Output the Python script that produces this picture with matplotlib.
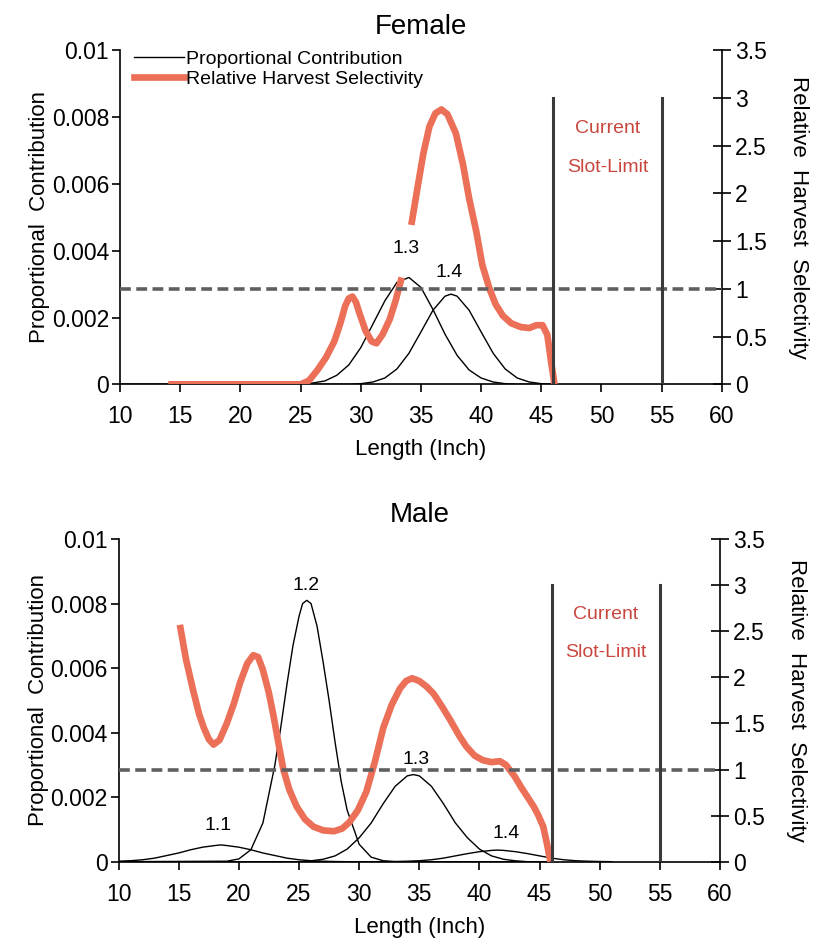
import matplotlib
matplotlib.use("Agg")
import matplotlib.pyplot as plt
import numpy as np

plt.rcParams['font.family'] = ['Liberation Sans', 'DejaVu Sans']

# ---- data ----
# Female proportional contribution curves (left axis)
f13_x = [10, 25, 26, 27, 28, 29, 30, 31, 32, 33, 34, 35, 36, 37, 38, 39, 40, 41, 42, 43, 46]
f13_y = [0, 0, 0.00004, 0.0001, 0.00027, 0.00058, 0.0011, 0.0018, 0.0025, 0.00305, 0.0032,
         0.0029, 0.00224, 0.0015, 0.00087, 0.00043, 0.00019, 0.00007, 0.00002, 0, 0]
f14_x = [10, 29, 30, 31, 32, 33, 34, 35, 36, 37, 37.5, 38, 39, 40, 41, 42, 43, 44, 45, 46]
f14_y = [0, 0, 0.00002, 0.00007, 0.00019, 0.00046, 0.00093, 0.00157, 0.00222, 0.00264, 0.0027,
         0.00264, 0.00222, 0.00157, 0.00093, 0.00046, 0.00019, 0.00007, 0.00002, 0]

# Female relative harvest selectivity (right axis), NaN = break in the line
f_sel_x = [14, 25, 25.7, 26.4, 27.1, 27.8, 28.3, 28.7, 29.0, 29.3, 29.6, 29.9, 30.4, 30.9, 31.3,
           31.8, 32.4, 32.9, 33.4, np.nan, 34.2, 34.7, 35.2, 35.7, 36.2, 36.7, 37.2, 37.9, 38.5,
           39.0, 39.6, 40.1, 40.7, 41.2, 41.8, 42.5, 43.3, 44.0, 44.6, 45.1, 45.5, 45.8, 46.1]
f_sel_y = [0, 0, 0.04, 0.15, 0.28, 0.45, 0.64, 0.82, 0.9, 0.92, 0.86, 0.74, 0.56, 0.45, 0.43,
           0.52, 0.68, 0.88, 1.12, np.nan, 1.67, 2.05, 2.42, 2.7, 2.84, 2.88, 2.83, 2.63, 2.3,
           1.95, 1.6, 1.25, 1.0, 0.84, 0.72, 0.64, 0.6, 0.59, 0.62, 0.62, 0.52, 0.25, 0]

# Male proportional contribution curves (left axis)
m11_x = [10, 11, 12, 13, 14, 15, 16, 17, 18, 18.5, 19, 20, 21, 22, 23, 24, 25, 26, 27, 28, 29]
m11_y = [0.000015, 0.00003, 0.00006, 0.00011, 0.00019, 0.00027, 0.00037, 0.00045, 0.0005, 0.00052,
         0.0005, 0.00045, 0.00037, 0.00027, 0.00019, 0.00011, 0.00006, 0.00003, 0.000015, 0.000005, 0]
m12_x = [10, 19, 20, 21, 22, 23, 23.5, 24, 24.5, 25, 25.3, 25.65, 26, 26.5, 27, 27.5, 28, 28.5, 29,
         30, 31, 32, 33, 46]
m12_y = [0, 0.000015, 0.000085, 0.00037, 0.0012, 0.003, 0.0042, 0.0055, 0.0067, 0.0076, 0.0080,
         0.0081, 0.008, 0.0073, 0.0062, 0.005, 0.0037, 0.0025, 0.0016, 0.00054, 0.00014, 0.00003,
         0, 0]
m13_x = [10, 25, 26, 27, 28, 29, 30, 31, 32, 33, 34, 34.5, 35, 36, 37, 38, 39, 40, 41, 42, 43, 44]
m13_y = [0, 0, 0.000027, 0.000075, 0.00018, 0.00039, 0.00074, 0.0012, 0.0018, 0.00234, 0.00266,
         0.0027, 0.00266, 0.00234, 0.0018, 0.0012, 0.00074, 0.00039, 0.00018, 0.000075, 0.000027, 0]
m14_x = [10, 31, 32, 33, 34, 35, 36, 37, 38, 39, 40, 41, 41.5, 42, 43, 44, 45, 46, 47, 48, 49, 50, 51]
m14_y = [0, 0, 0.000002, 0.000006, 0.000015, 0.00003, 0.00006, 0.00011, 0.00018, 0.00025, 0.00031,
         0.00035, 0.00036, 0.00035, 0.00031, 0.00025, 0.00018, 0.00011, 0.00006, 0.00003, 0.000015,
         0.000006, 0]

# Male relative harvest selectivity (right axis)
m_sel_x = [15.1, 15.6, 16.2, 16.7, 17.1, 17.5, 17.9, 18.4, 19.0, 19.6, 20.1, 20.7, 21.2, 21.6,
           22.0, 22.5, 22.9, 23.3, 23.7, 24.2, 24.8, 25.5, 26.2, 27.0, 27.9, 28.6, 29.2, 29.9,
           30.6, 31.3, 32.0, 32.7, 33.4, 33.9, 34.4, 35.0, 35.6, 36.2, 36.9, 37.6, 38.3, 38.9,
           39.6, 40.3, 41.0, 41.7, 42.2, 42.9, 43.5, 44.0, 44.5, 44.9, 45.3, 45.6, 45.9]
m_sel_y = [2.57, 2.2, 1.86, 1.6, 1.45, 1.33, 1.27, 1.32, 1.5, 1.72, 1.94, 2.15, 2.24, 2.22,
           2.08, 1.83, 1.57, 1.28, 1.0, 0.78, 0.6, 0.46, 0.38, 0.34, 0.33, 0.36, 0.43, 0.56,
           0.76, 1.08, 1.45, 1.7, 1.88, 1.96, 1.99, 1.96, 1.9, 1.82, 1.68, 1.53, 1.37, 1.25,
           1.15, 1.1, 1.08, 1.09, 1.05, 0.93, 0.8, 0.7, 0.6, 0.5, 0.38, 0.2, 0]

# peak labels: (text, x, y)
f_labels = [("1.3", 33.8, 0.0038), ("1.4", 37.3, 0.0031)]
m_labels = [("1.1", 18.3, 0.00085), ("1.2", 25.6, 0.0083), ("1.3", 34.7, 0.0029), ("1.4", 42.2, 0.0006)]

slot_limits = [46, 55]
slot_top = 3.0
reference_level = 1.0

x_ticks = list(range(10, 61, 5))
left_ticks = [0, 0.002, 0.004, 0.006, 0.008, 0.01]
left_ticklabels = ["0", "0.002", "0.004", "0.006", "0.008", "0.01"]
right_ticks = [0, 0.5, 1, 1.5, 2, 2.5, 3, 3.5]
right_ticklabels = ["0", "0.5", "1", "1.5", "2", "2.5", "3", "3.5"]

SEL_COLOR = "#ec6f58"
TXT_RED = "#c9473f"
TICK_FS = 16.5


def draw_panel(ax, title, curves, sel_x, sel_y, labels, legend=False):
    for cx, cy in curves:
        ax.plot(cx, cy, color="black", lw=1.0, zorder=3)
    ax.set_xlim(10, 60)
    ax.set_ylim(0, 0.01)
    ax.set_xticks(x_ticks)
    ax.set_yticks(left_ticks)
    ax.set_yticklabels(left_ticklabels)
    ax.spines['top'].set_visible(False)
    ax.spines['right'].set_visible(False)
    ax.spines['left'].set_linewidth(1.2)
    ax.spines['bottom'].set_linewidth(1.2)
    ax.tick_params(axis='both', direction='out', length=6, width=1.2, labelsize=TICK_FS)
    ax.tick_params(axis='x', pad=9)
    ax.tick_params(axis='y', pad=2)
    ax.set_xlabel("Length (Inch)", fontsize=16, labelpad=8)
    ax.set_ylabel("Proportional  Contribution", fontsize=16, labelpad=1)
    ax.set_title(title, fontsize=20, pad=12)
    for txt, lx, ly in labels:
        ax.text(lx, ly, txt, ha="center", va="bottom", fontsize=14, zorder=5)

    ax2 = ax.twinx()
    ax2.set_ylim(0, 3.5)
    ax2.set_yticks(right_ticks)
    ax2.set_yticklabels(right_ticklabels)
    ax2.spines['top'].set_visible(False)
    ax2.spines['left'].set_visible(False)
    ax2.spines['bottom'].set_visible(False)
    ax2.spines['right'].set_linewidth(1.2)
    ax2.tick_params(axis='y', direction='inout', length=13, width=1.2, labelsize=TICK_FS, pad=3)
    ax2.set_ylabel("Relative  Harvest  Selectivity", fontsize=16, rotation=270, labelpad=30)
    ax2.plot(sel_x, sel_y, color=SEL_COLOR, lw=4.8, solid_capstyle="butt",
             solid_joinstyle="round", zorder=2)
    ax2.axhline(reference_level, color="#5f5f5f", lw=2.6, ls=(0, (3, 1.5)), zorder=4)
    for sx in slot_limits:
        ax2.plot([sx, sx], [0, slot_top], color="#3a3a3a", lw=2.2, zorder=4)
    mid = sum(slot_limits) / 2
    ax2.text(mid, 2.68, "Current", color=TXT_RED, ha="center", va="center", fontsize=14)
    ax2.text(mid, 2.27, "Slot-Limit", color=TXT_RED, ha="center", va="center", fontsize=14)
    ax2.set_xlim(10, 60)

    if legend:
        h1, = ax.plot([], [], color="black", lw=1.0)
        h2, = ax.plot([], [], color=SEL_COLOR, lw=4.8)
        ax.legend([h1, h2], ["Proportional Contribution", "Relative Harvest Selectivity"],
                  loc="upper left", bbox_to_anchor=(0.0, 1.04), frameon=False, fontsize=14,
                  handlelength=2.6, handletextpad=0.1, labelspacing=0.1, borderaxespad=0.3)


fig = plt.figure(figsize=(8.23, 9.49), dpi=100)
ax_f = fig.add_axes([0.146, 0.595, 0.731, 0.352])
ax_m = fig.add_axes([0.144, 0.092, 0.731, 0.340])

draw_panel(ax_f, "Female", [(f13_x, f13_y), (f14_x, f14_y)], f_sel_x, f_sel_y, f_labels, legend=True)
draw_panel(ax_m, "Male", [(m11_x, m11_y), (m12_x, m12_y), (m13_x, m13_y), (m14_x, m14_y)],
           m_sel_x, m_sel_y, m_labels)

fig.savefig("out.png", dpi=100)
